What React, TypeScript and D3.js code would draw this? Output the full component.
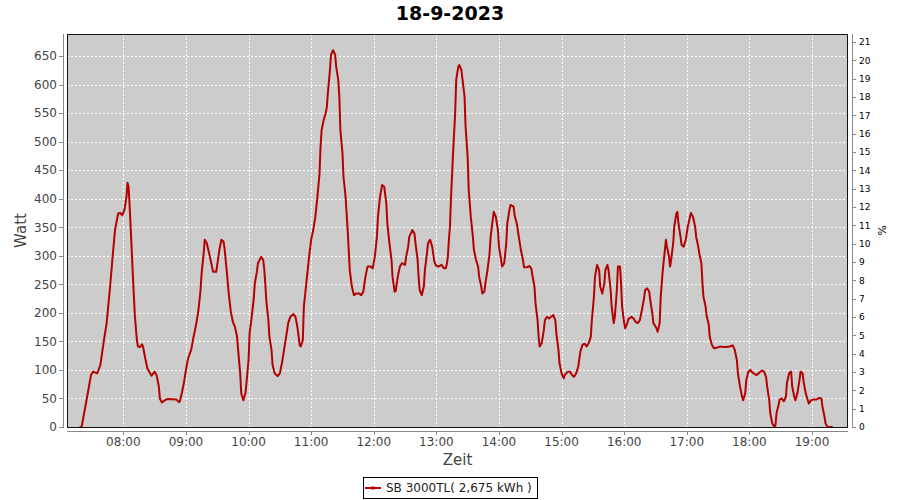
import React from 'react';
import * as d3 from 'd3';

const chartTitle = '18-9-2023';
const yAxisTitle = 'Watt';
const xAxisTitle = 'Zeit';
const y2AxisTitle = '%';
const legendLabel = 'SB 3000TL( 2,675 kWh )';

const times = [
  '7:18','7:20','7:25','7:29','7:31','7:35','7:38','7:41','7:44','7:47','7:50','7:52','7:55','7:57','7:59',
  '8:01','8:03','8:04','8:05','8:06','8:07','8:09','8:11','8:13','8:14','8:16','8:18','8:19','8:21','8:23','8:26','8:27','8:30','8:32','8:34','8:35','8:37','8:40','8:42','8:51','8:53','8:54','8:56','8:58',
  '9:00','9:02','9:05','9:07','9:10','9:12','9:14','9:15','9:17','9:18','9:20','9:23','9:26','9:29','9:30','9:32','9:34','9:36','9:37','9:39','9:41','9:43','9:45','9:47','9:49','9:50','9:52','9:53','9:55','9:57','9:58',
  '10:00','10:01','10:03','10:05','10:06','10:08','10:09','10:12','10:14','10:15','10:16','10:17','10:19','10:20','10:22','10:23','10:25','10:28','10:30','10:32','10:34','10:36','10:38','10:40','10:43','10:45','10:47','10:49','10:50','10:52','10:53','10:56','10:58',
  '11:00','11:02','11:04','11:06','11:08','11:09','11:10','11:12','11:13','11:14','11:15','11:16','11:18','11:19','11:21','11:23','11:24','11:26','11:27','11:28','11:30','11:31','11:33','11:34','11:35','11:36','11:37','11:39','11:41','11:43','11:46','11:48','11:50','11:52','11:54','11:57','11:59',
  '12:01','12:03','12:04','12:06','12:08','12:10','12:12','12:13','12:15','12:17','12:18','12:20','12:21','12:23','12:25','12:27','12:30','12:31','12:33','12:34','12:37','12:39','12:40','12:42','12:43','12:44','12:46','12:48','12:49','12:51','12:52','12:54','12:56','12:58',
  '13:00','13:02','13:05','13:07','13:09','13:10','13:11','13:12','13:13','13:14','13:15','13:16','13:18','13:19','13:21','13:22','13:24','13:25','13:27','13:28','13:30','13:31','13:33','13:35','13:36','13:38','13:40','13:41','13:43','13:44','13:46','13:47','13:49','13:51','13:52','13:54','13:55','13:57','13:59',
  '14:00','14:02','14:03','14:05','14:07','14:08','14:10','14:11','14:14','14:15','14:17','14:19','14:21','14:23','14:24','14:27','14:29','14:31','14:32','14:34','14:35','14:37','14:38','14:39','14:41','14:43','14:44','14:46','14:48','14:50','14:52','14:54','14:55','14:57','14:58',
  '15:00','15:02','15:03','15:06','15:08','15:10','15:12','15:14','15:16','15:18','15:20','15:22','15:24','15:26','15:28','15:29','15:31','15:32','15:34','15:36','15:37','15:39','15:41','15:42','15:44','15:45','15:47','15:48','15:50','15:51','15:53','15:54','15:56','15:57','15:58',
  '16:00','16:01','16:03','16:04','16:07','16:09','16:11','16:13','16:15','16:17','16:19','16:20','16:22','16:24','16:25','16:27','16:28','16:31','16:32','16:34','16:35','16:37','16:39','16:40','16:41','16:43','16:44','16:45','16:47','16:48','16:50','16:51','16:52','16:54','16:55','16:57','16:59',
  '17:01','17:03','17:04','17:06','17:08','17:09','17:11','17:12','17:14','17:15','17:16','17:18','17:19','17:21','17:22','17:24','17:26','17:29','17:32','17:35','17:38','17:41','17:44','17:46','17:48','17:49','17:51','17:53','17:54','17:56','17:57','17:59',
  '18:01','18:02','18:04','18:07','18:10','18:12','18:14','18:16','18:17','18:19','18:20','18:22','18:24','18:25','18:26','18:28','18:29','18:31','18:33','18:35','18:36','18:38','18:40','18:41','18:43','18:44','18:46','18:48','18:49','18:51','18:52','18:54','18:56','18:57','18:59',
  '19:01','19:04','19:07','19:09','19:10','19:12','19:13','19:15','19:20'
];

const watts = [
  0,0,50,91,97,94,109,147,182,240,304,345,374,375,371,
  380,403,428,421,389,351,270,196,152,141,140,145,140,120,103,93,90,97,90,71,50,43,47,49,48,44,44,59,77,
  100,120,135,155,182,205,240,269,304,328,322,298,272,272,284,310,328,325,313,275,234,202,184,175,158,135,94,59,47,59,77,
  117,164,193,225,252,272,287,298,293,278,252,222,187,158,135,109,94,89,94,112,135,158,182,193,198,193,173,144,141,152,211,263,298,
  328,345,368,403,444,491,520,538,544,550,560,585,625,652,660,652,631,608,579,520,480,438,403,374,345,310,275,246,231,234,234,231,237,263,281,281,278,
  298,333,368,403,424,421,392,357,322,293,263,237,238,263,281,287,284,298,316,333,345,339,322,293,263,240,231,246,275,304,322,328,316,290,
  282,281,284,278,278,285,298,328,350,400,440,480,549,608,631,634,625,610,579,526,473,415,368,333,310,293,281,263,246,234,237,252,275,304,333,363,377,368,345,
  316,293,281,287,322,357,380,389,386,371,357,333,310,293,280,280,282,278,266,246,217,187,158,141,147,170,187,193,190,193,196,187,164,135,112,
  94,85,91,97,97,91,88,94,106,132,144,146,141,147,158,187,228,263,284,275,246,234,252,275,284,275,240,211,182,193,240,281,281,252,211,
  182,173,182,189,193,190,184,182,187,205,225,240,243,237,222,199,182,173,167,182,228,275,310,328,316,298,281,293,322,351,374,377,357,333,319,316,328,
  351,368,375,368,351,333,316,304,287,252,228,211,195,180,158,144,138,139,141,140,140,141,143,135,117,94,71,53,47,59,82,97,
  100,97,94,91,96,99,97,88,71,47,24,6,0,4,24,39,48,50,45,53,77,94,97,71,53,47,59,82,97,94,79,59,47,41,47,
  48,48,51,50,36,18,6,0,0
];

const wattTicks = [0, 50, 100, 150, 200, 250, 300, 350, 400, 450, 500, 550, 600, 650];
const hourTicks = ['08:00', '09:00', '10:00', '11:00', '12:00', '13:00', '14:00', '15:00', '16:00', '17:00', '18:00', '19:00'];
const pctTicks = [0, 1, 2, 3, 4, 5, 6, 7, 8, 9, 10, 11, 12, 13, 14, 15, 16, 17, 18, 19, 20, 21];

const toMin = (s: string) => {
  const [h, m] = s.split(':').map(Number);
  return h * 60 + m;
};

export default function App() {
  const W = 900, H = 500;
  const L = 67, R = 848, T = 34, B = 427;
  const x = d3.scaleLinear().domain([426, 1174.5]).range([L, R]);
  const y = d3.scaleLinear().domain([0, 688.5]).range([B, T]);
  const y2 = d3.scaleLinear().domain([0, 21.44]).range([B, T]);
  const data = times.map((t, i) => ({ t: toMin(t), v: watts[i] }));
  const line = d3.line<{ t: number; v: number }>().x(d => x(d.t)).y(d => y(d.v));
  const font = 'DejaVu Sans, sans-serif';
  const crisp = (v: number) => Math.round(v) + 0.5;

  return (
    <svg width={W} height={H} style={{ position: 'absolute', left: 0, top: 0, background: '#fff' }} fontFamily={font}>
      <text x={450} y={20} textAnchor="middle" fontSize={19} fontWeight="bold" fill="#000">{chartTitle}</text>

      <rect x={L} y={T} width={R - L} height={B - T} fill="#cccccc" />
      {wattTicks.map(v => (
        <line key={'gy' + v} x1={L} x2={R} y1={crisp(y(v))} y2={crisp(y(v))} stroke="#fff" strokeWidth={1} strokeDasharray="2,2" />
      ))}
      {hourTicks.map(h => (
        <line key={'gx' + h} x1={crisp(x(toMin(h)))} x2={crisp(x(toMin(h)))} y1={T} y2={B} stroke="#fff" strokeWidth={1} strokeDasharray="2,2" />
      ))}
      <path d={line(data) || ''} fill="none" stroke="#b50000" strokeWidth={2} strokeLinejoin="round" />
      <rect x={L + 0.5} y={T + 0.5} width={R - L - 1} height={B - T} fill="none" stroke="#111" strokeWidth={1} />

      {/* left axis */}
      <line x1={63.5} x2={63.5} y1={T} y2={B + 1} stroke="#888" strokeWidth={1} />
      {wattTicks.map(v => (
        <g key={'ly' + v}>
          <line x1={59} x2={63} y1={crisp(y(v))} y2={crisp(y(v))} stroke="#888" />
          <text x={57} y={y(v)} dy="0.36em" textAnchor="end" fontSize={12} fill="#444">{v}</text>
        </g>
      ))}
      <text transform={`translate(26,${(T + B) / 2}) rotate(-90)`} textAnchor="middle" fontSize={15} fill="#444">{yAxisTitle}</text>

      {/* bottom axis */}
      <line x1={L} x2={R} y1={431.5} y2={431.5} stroke="#888" strokeWidth={1} />
      {hourTicks.map(h => (
        <g key={'bx' + h}>
          <line x1={crisp(x(toMin(h)))} x2={crisp(x(toMin(h)))} y1={432} y2={435} stroke="#888" />
          <text x={x(toMin(h))} y={446} textAnchor="middle" fontSize={12} fill="#444">{h}</text>
        </g>
      ))}
      <text x={(L + R) / 2} y={465} textAnchor="middle" fontSize={15} fill="#444">{xAxisTitle}</text>

      {/* right axis */}
      <line x1={852.5} x2={852.5} y1={T} y2={B + 1} stroke="#888" strokeWidth={1} />
      {pctTicks.map(p => (
        <g key={'ry' + p}>
          <line x1={853} x2={856} y1={crisp(y2(p))} y2={crisp(y2(p))} stroke="#888" />
          <text x={859} y={y2(p)} dy="0.36em" textAnchor="start" fontSize={9} fill="#000">{p}</text>
        </g>
      ))}
      <text transform={`translate(878,${(T + B) / 2}) rotate(90)`} textAnchor="middle" fontSize={11} fill="#000">{y2AxisTitle}</text>

      {/* legend */}
      <rect x={363.5} y={477.5} width={174} height={21} fill="#fff" stroke="#000" strokeWidth={1} />
      <line x1={365} x2={381} y1={488} y2={488} stroke="#b50000" strokeWidth={2} />
      <rect x={371.5} y={486.5} width={3} height={3} fill="#b50000" />
      <text x={386} y={492} fontSize={12} fill="#222">{legendLabel}</text>
    </svg>
  );
}
